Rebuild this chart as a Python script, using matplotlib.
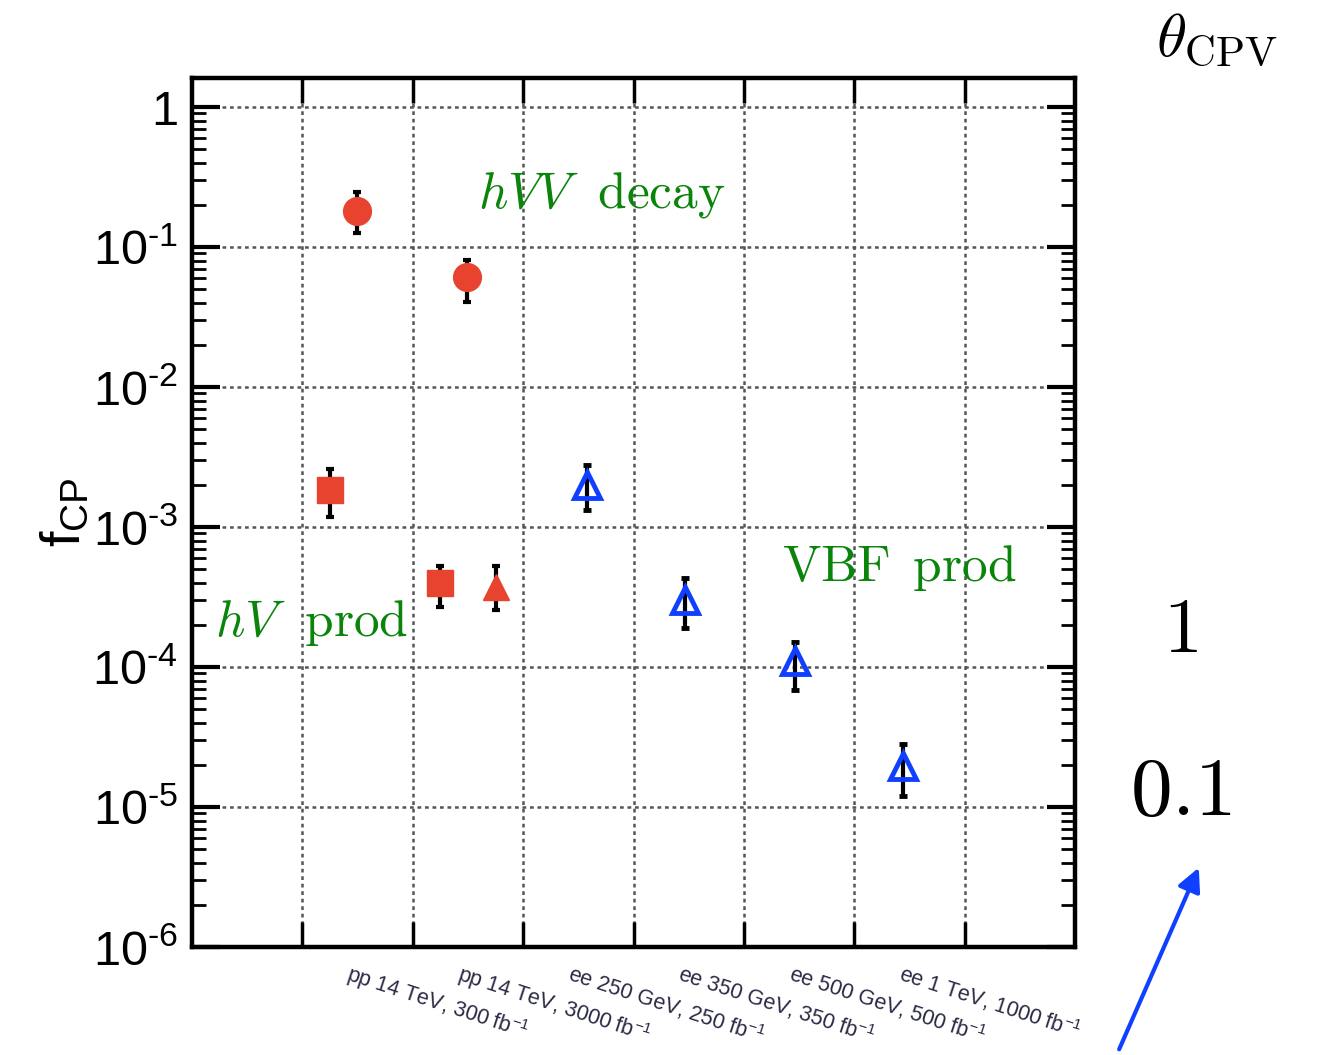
import numpy as np
import matplotlib
matplotlib.use("Agg")
import matplotlib.pyplot as plt
from matplotlib.ticker import FixedLocator, NullFormatter

plt.rcParams['font.family'] = ['Liberation Sans', 'DejaVu Sans']
plt.rcParams['mathtext.fontset'] = 'custom'
plt.rcParams['mathtext.rm'] = 'Liberation Sans'
plt.rcParams['mathtext.it'] = 'Liberation Sans:italic'

# -------------------------------
# Datos
# -------------------------------
categories = ["pp 14 TeV, 300 fb$^{-1}$", "pp 14 TeV, 3000 fb$^{-1}$",
              "ee 250 GeV, 250 fb$^{-1}$", "ee 350 GeV, 350 fb$^{-1}$",
              "ee 500 GeV, 500 fb$^{-1}$", "ee 1 TeV, 1000 fb$^{-1}$"]

# hVV decay (circulos rojos)
dec_x = [1.49, 2.49]
dec_y = [0.18, 0.061]
dec_lo = [0.126, 0.0405]
dec_hi = [0.247, 0.081]

# hV prod (cuadrados rojos)
hv_x = [1.25, 2.25]
hv_y = [1.84e-3, 4.0e-4]
hv_lo = [1.17e-3, 2.7e-4]
hv_hi = [2.59e-3, 5.3e-4]

# hV prod extra (triangulo rojo)
hv2_x = [2.75]
hv2_y = [3.7e-4]
hv2_lo = [2.56e-4]
hv2_hi = [5.3e-4]

# VBF prod (triangulos azules abiertos)
vbf_x = [3.58, 4.47, 5.46, 6.44]
vbf_y = [2.0e-3, 3.0e-4, 1.1e-4, 1.97e-5]
vbf_lo = [1.32e-3, 1.9e-4, 6.9e-5, 1.2e-5]
vbf_hi = [2.75e-3, 4.3e-4, 1.5e-4, 2.8e-5]

ytick_vals = [1e-6, 1e-5, 1e-4, 1e-3, 1e-2, 1e-1, 1]
ytick_labels = ["10$^{\u2010" + "6}$", "10$^{\u2010" + "5}$", "10$^{\u2010" + "4}$",
                "10$^{\u2010" + "3}$", "10$^{\u2010" + "2}$", "10$^{\u2010" + "1}$", "1"]

RED = "#e8432e"
BLUE = "#1040ff"
GREEN = "#0a840a"

fig = plt.figure(figsize=(13.2, 10.55), dpi=100)
ax = fig.add_axes([0.1455, 0.1024, 0.669, 0.8236])

ax.set_yscale("log")
ax.set_xlim(0, 8)
ax.set_ylim(1e-6, 1.61)


def errs(y, lo, hi):
    y = np.array(y)
    return [y - np.array(lo), np.array(hi) - y]


ax.errorbar(dec_x, dec_y, yerr=errs(dec_y, dec_lo, dec_hi), fmt="o",
            color=RED, ms=20, ecolor="black", elinewidth=3, capsize=3,
            capthick=3, zorder=4)
ax.errorbar(hv_x, hv_y, yerr=errs(hv_y, hv_lo, hv_hi), fmt="s",
            color=RED, ms=19, ecolor="black", elinewidth=3, capsize=3,
            capthick=3, zorder=4)
ax.errorbar(hv2_x, hv2_y, yerr=errs(hv2_y, hv2_lo, hv2_hi), fmt="^",
            color=RED, ms=19, ecolor="black", elinewidth=3, capsize=3,
            capthick=3, zorder=4)
ax.errorbar(vbf_x, vbf_y, yerr=errs(vbf_y, vbf_lo, vbf_hi), fmt="^",
            mfc="none", mec=BLUE, mew=3.5, ms=19, ecolor="black",
            elinewidth=3, capsize=3, capthick=3, zorder=4)

# Grilla
for xv in range(1, 8):
    ax.axvline(xv, color="#555555", lw=1.8, ls=(0, (1.5, 1.5)), zorder=1)
for yv in ytick_vals[1:]:
    ax.axhline(yv, color="#555555", lw=1.8, ls=(0, (1.5, 1.5)), zorder=1)

# Ejes y ticks
for s in ax.spines.values():
    s.set_linewidth(3.2)

ax.xaxis.set_major_locator(FixedLocator(range(1, 8)))
ax.xaxis.set_major_formatter(NullFormatter())
ax.tick_params(axis="x", which="major", direction="in", length=18, width=2.5,
               top=True, bottom=True)
ax.set_yticks(ytick_vals)
ax.set_yticklabels(ytick_labels)
ax.yaxis.set_minor_locator(matplotlib.ticker.LogLocator(subs=np.arange(2, 10)))
ax.yaxis.set_minor_formatter(NullFormatter())
ax.tick_params(axis="y", which="major", direction="in", length=20, width=3,
               left=True, right=True, labelsize=35, pad=10)
ax.tick_params(axis="y", which="minor", direction="in", length=10, width=2,
               left=True, right=True)

ax.set_ylabel(r"f$_{\mathrm{CP}}$", fontsize=40)
ax.yaxis.set_label_coords(-0.113, 0.5)

# Etiquetas de categorias
for i, lab in enumerate(categories):
    ax.text(i + 1.45, -0.015, lab, transform=ax.get_xaxis_transform(),
            rotation=-18, rotation_mode="anchor", ha="left", va="top",
            fontsize=15.5, color="#2a2a44")

# Textos verdes
ax.text(2.59, 10**-0.63, r"$hVV\ \ \mathrm{decay}$", color=GREEN, fontsize=37,
        math_fontfamily="cm", ha="left", va="center", zorder=5)
ax.text(5.34, 5.1e-4, r"$\mathrm{VBF}\ \,\mathrm{prod}$", color=GREEN,
        fontsize=37, math_fontfamily="cm", ha="left", va="center", zorder=5)
ax.text(0.21, 2.05e-4, r"$hV\ \ \mathrm{prod}$", color=GREEN, fontsize=37,
        math_fontfamily="cm", ha="left", va="center", zorder=5)

# Anotaciones fuera del grafico
fig.text(0.922, 0.962, r"$\theta_{\mathrm{CPV}}$", fontsize=44,
         math_fontfamily="cm", ha="center", va="center")
fig.text(0.894, 0.401, r"$1$", fontsize=56, math_fontfamily="cm",
         ha="center", va="center")
fig.text(0.895, 0.248, r"$0.1$", fontsize=60, math_fontfamily="cm",
         ha="center", va="center")
fig.add_artist(matplotlib.patches.FancyArrowPatch(
    (0.847, 0.003), (0.909, 0.180), transform=fig.transFigure,
    arrowstyle="-|>,head_length=14,head_width=7", color=BLUE, lw=3,
    mutation_scale=1))

fig.savefig("out.png", dpi=100)
